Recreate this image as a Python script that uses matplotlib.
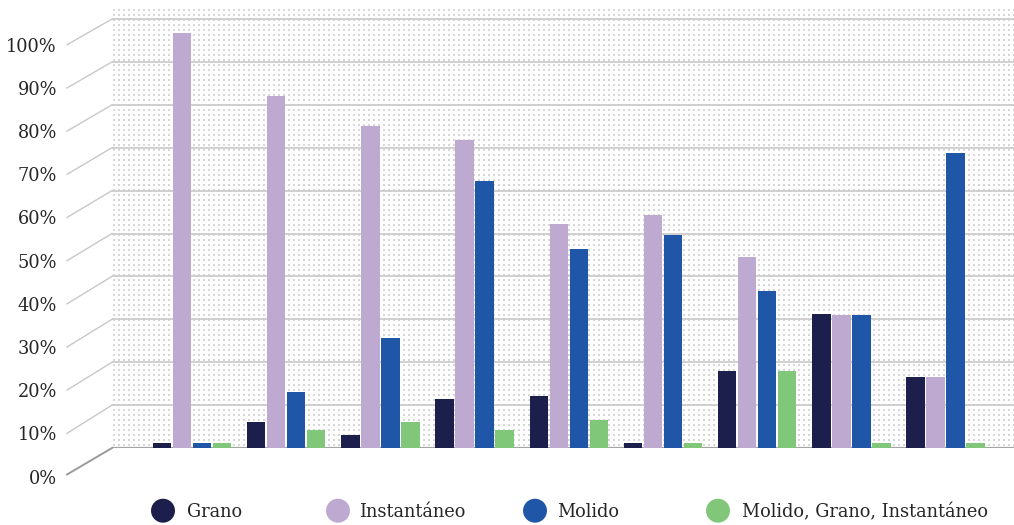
import numpy as np
import matplotlib
matplotlib.use("Agg")
import matplotlib.pyplot as plt

# ---- data -------------------------------------------------------------
groups = np.arange(9)
series_names = ["Grano", "Instantáneo", "Molido", "Molido, Grano, Instantáneo"]
series_colors = ["#1c1f4c", "#bea9d0", "#2056a8", "#80c77a"]
grano = [1.2, 6.1, 3.0, 11.5, 12.1, 1.2, 17.9, 31.2, 16.6]
instantaneo = [96.8, 82.1, 75.1, 71.8, 52.1, 54.4, 44.6, 31.0, 16.6]
molido = [1.2, 13.1, 25.6, 62.3, 46.4, 49.6, 36.6, 31.0, 68.8]
mezcla = [1.2, 4.2, 6.1, 4.2, 6.5, 1.2, 17.9, 1.2, 1.2]
series_values = [grano, instantaneo, molido, mezcla]
y_ticks = list(range(0, 101, 10))
y_tick_labels = [f"{v}%" for v in y_ticks]

# ---- geometry (pixels) -----------------------------------------------
W, H = 1014, 525
wall_left, wall_right = 112, 1014
wall_top, wall_base = 8, 448
px_per_pct = 4.29
front_base, front_px_per_pct = 476.5, 4.317
group_step_px = 94.2
first_center_px = 192.0
bar_step_px = 20.0
bar_width_px = 18.5

text_color = "#262626"
font = "DejaVu Serif"
fsize = 12.8

fig = plt.figure(figsize=(W / 100, H / 100), dpi=100)
fig.patch.set_facecolor("white")

ax = fig.add_axes([wall_left / W, (H - wall_base) / H,
                   (wall_right - wall_left) / W, (wall_base - wall_top) / H])
x0 = (wall_left - first_center_px) / group_step_px
x1 = (wall_right - first_center_px) / group_step_px
ymax = (wall_base - wall_top) / px_per_pct
ax.set_xlim(x0, x1)
ax.set_ylim(0, ymax)
ax.axis("off")

# dotted back wall texture
h = wall_base - wall_top
w = wall_right - wall_left
tex = np.ones((h, w))
for dy in range(2):
    for dx in range(2):
        tex[1 + dy::5, 1 + dx::5] = 0.84
ax.imshow(tex, cmap="gray", vmin=0, vmax=1, extent=[x0, x1, 0, ymax],
          aspect="auto", interpolation="nearest", zorder=0)

# grid lines on the back wall
for v in y_ticks:
    if v == 0:
        ax.axhline(v, color="#a4a4a4", lw=1.6, zorder=1)
    else:
        ax.axhline(v, color="#cdcdcd", lw=1.3, zorder=1)

# bars
offsets = (np.arange(4) - 1.5) * bar_step_px / group_step_px
bw = bar_width_px / group_step_px
for off, vals, col in zip(offsets, series_values, series_colors):
    ax.bar(groups + off, vals, width=bw, color=col, edgecolor="none", zorder=3)

# overlay in pixel coordinates for the front axis and legend
ov = fig.add_axes([0, 0, 1, 1])
ov.set_xlim(0, W)
ov.set_ylim(H, 0)
ov.axis("off")
ov.patch.set_alpha(0)

for v, lab in zip(y_ticks, y_tick_labels):
    back_y = wall_base - v * px_per_pct
    front_y = front_base - v * front_px_per_pct
    if v == 0:
        ov.plot([67, wall_left], [front_y - 2, back_y], color="#9a9a9a", lw=1.4)
    else:
        ov.plot([67, wall_left], [front_y, back_y], color="#c8c8c8", lw=1.0)
    ov.text(57, front_y + 7, lab, ha="right", va="baseline",
            fontsize=fsize, family=font, color=text_color)

# legend
legend_marker_x = [163, 338, 535, 718]
legend_text_x = [187, 359, 557, 742]
legend_y = 510.7
for name, col, mx, tx in zip(series_names, series_colors, legend_marker_x, legend_text_x):
    ov.scatter([mx], [legend_y], s=298, color=col, edgecolors="none")
    ov.text(tx, legend_y + 6.5, name, ha="left", va="baseline",
            fontsize=fsize, family=font, color=text_color)

fig.savefig("out.png", dpi=100)
